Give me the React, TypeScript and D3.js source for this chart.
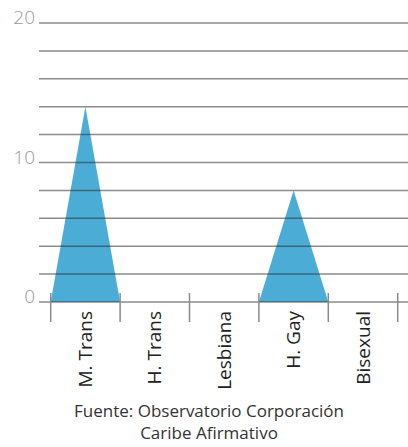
import React, { useRef, useEffect } from "react";
import * as d3 from "d3";

// chart data
const categories = ["M. Trans", "H. Trans", "Lesbiana", "H. Gay", "Bisexual"];
const values = [14, 0, 0, 8, 0];
const gridValues = [0, 2, 4, 6, 8, 10, 12, 14, 16, 18, 20];
const yTickLabels = [0, 10, 20];
const captionLines = ["Fuente: Observatorio Corporación", "Caribe Afirmativo"];

const App: React.FC = () => {
  const svgRef = useRef<SVGSVGElement>(null);

  useEffect(() => {
    const width = 408;
    const height = 447;
    const svg = d3.select(svgRef.current);
    svg.selectAll("*").remove();

    const x = d3.scaleBand<string>().domain(categories).range([50.7, 397.7]).padding(0);
    const y = d3.scaleLinear().domain([0, 20]).range([302, 23]);
    const font = `"Open Sans", "Noto Sans", sans-serif`;

    // triangles
    svg
      .append("g")
      .selectAll("path")
      .data(categories.map((c, i) => ({ c, v: values[i] })).filter((d) => d.v > 0))
      .enter()
      .append("path")
      .attr("d", (d) => {
        const x0 = x(d.c)!;
        const x1 = x0 + x.bandwidth();
        return `M${x0},${y(0)}L${(x0 + x1) / 2},${y(d.v)}L${x1},${y(0)}Z`;
      })
      .attr("fill", "#4badd6");

    // gridlines
    svg
      .append("g")
      .selectAll("line")
      .data(gridValues)
      .enter()
      .append("line")
      .attr("x1", 39)
      .attr("x2", width)
      .attr("y1", (d) => y(d))
      .attr("y2", (d) => y(d))
      .attr("stroke", "#2e2e2e")
      .attr("stroke-opacity", 0.55)
      .attr("stroke-width", 1.5);

    // category ticks at band edges
    const edges = categories.map((c) => x(c)!).concat([x.range()[1]]);
    svg
      .append("g")
      .selectAll("line")
      .data(edges)
      .enter()
      .append("line")
      .attr("x1", (d) => d)
      .attr("x2", (d) => d)
      .attr("y1", y(0) - 9)
      .attr("y2", y(0) + 20)
      .attr("stroke", "#8a8a8a")
      .attr("stroke-width", 1.5);

    // y labels
    svg
      .append("g")
      .selectAll("text")
      .data(yTickLabels)
      .enter()
      .append("text")
      .attr("x", 35)
      .attr("y", (d) => y(d) + 1)
      .attr("text-anchor", "end")
      .attr("font-family", font)
      .attr("font-weight", 300)
      .attr("font-size", 19)
      .attr("fill", "#999")
      .text((d) => d);

    // x labels
    svg
      .append("g")
      .selectAll("text")
      .data(categories)
      .enter()
      .append("text")
      .attr("transform", (d) => `translate(${x(d)! + x.bandwidth() / 2},311) rotate(-90)`)
      .attr("text-anchor", "end")
      .attr("dy", "0.35em")
      .attr("font-family", font)
      .attr("font-size", 19)
      .attr("fill", "#222")
      .text((d) => d);

    // caption
    svg
      .append("g")
      .selectAll("text")
      .data(captionLines)
      .enter()
      .append("text")
      .attr("x", 209)
      .attr("y", (d, i) => 417 + i * 22)
      .attr("text-anchor", "middle")
      .attr("font-family", font)
      .attr("font-size", 17)
      .attr("fill", "#333")
      .text((d) => d);

    svg.attr("width", width).attr("height", height);
  }, []);

  return (
    <svg
      ref={svgRef}
      width={408}
      height={447}
      style={{ position: "absolute", left: 0, top: 0, background: "#fff" }}
    ></svg>
  );
};

export default App;
